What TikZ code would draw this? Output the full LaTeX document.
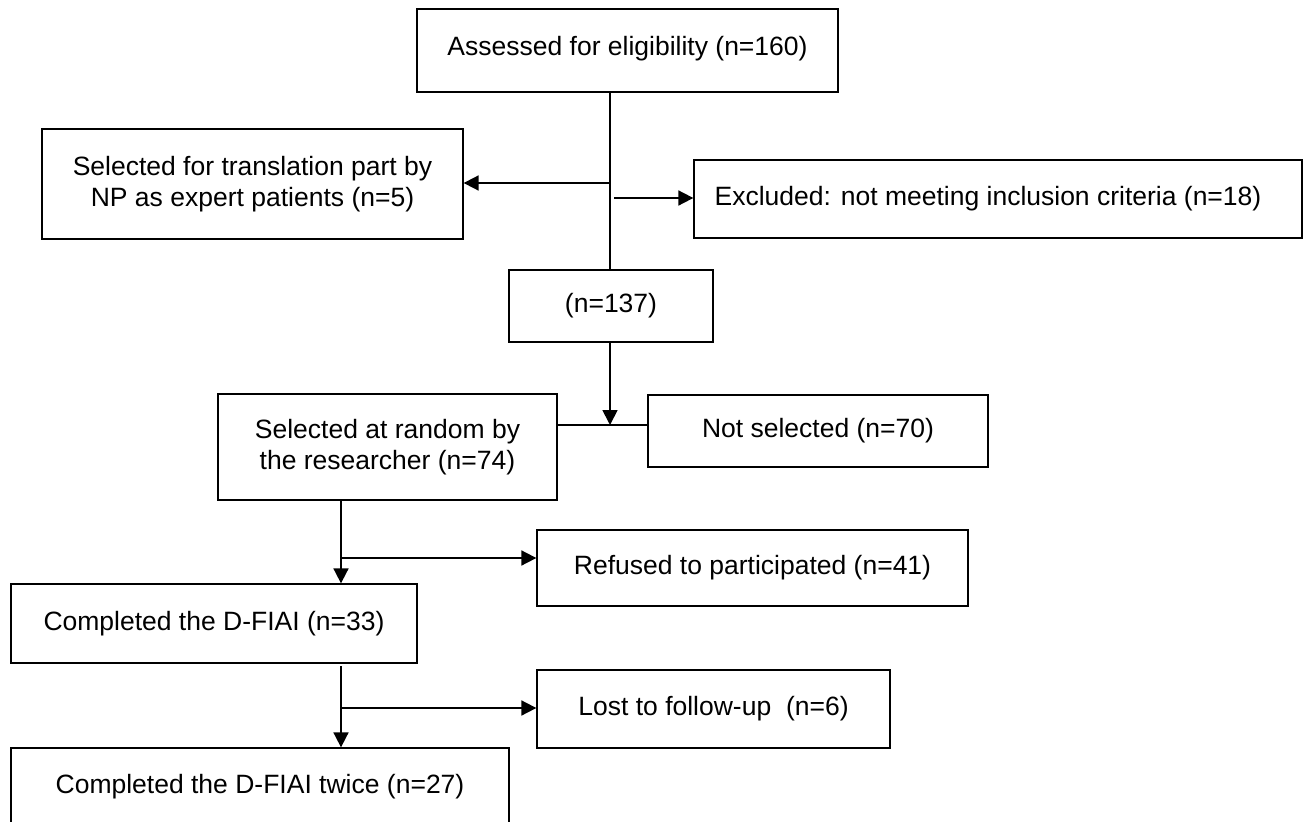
\documentclass[tikz,border=0pt]{standalone}
\usepackage{fontspec}
\setmainfont{Liberation Sans}
\usetikzlibrary{arrows.meta,calc}
\begin{document}
\begin{tikzpicture}[x=1pt,y=-1pt,
  box/.style={draw=black, line width=1.3pt, rectangle, align=center, inner sep=0pt,
    font=\fontsize{26.5}{30.5}\selectfont},
  conn/.style={draw=black, line width=1.8pt},
  arr/.style={conn, -{Triangle[length=15pt,width=15pt]}}]
\path[use as bounding box, clip] (0,0) rectangle (1307,822);
\fill[white] (0,0) rectangle (1307,822);
% boxes
\node[box, minimum width=421pt, minimum height=83pt] (b1) at (627.5,50.5) {Assessed for eligibility (n=160)\\[-22pt]\mbox{}\rule{0pt}{0pt}};
\node[box, minimum width=421pt, minimum height=110pt] (b2) at (252.5,184) {Selected for translation part by\\NP as expert patients (n=5)};
\node[box, minimum width=608pt, minimum height=78pt] (b3) at (998,199) {\hspace*{-20pt}Excluded: not meeting inclusion criteria (n=18)};
\node[box, minimum width=204pt, minimum height=72pt] (b4) at (611,306) {(n=137)};
\node[box, minimum width=339pt, minimum height=106pt] (b5) at (387.5,447) {Selected at random by\\the researcher (n=74)};
\node[box, minimum width=340pt, minimum height=72pt] (b6) at (818,431) {Not selected (n=70)};
\node[box, minimum width=431pt, minimum height=76pt] (b7) at (752.5,568) {Refused to participated (n=41)};
\node[box, minimum width=406pt, minimum height=79pt] (b8) at (214,623.5) {Completed the D-FIAI (n=33)};
\node[box, minimum width=353pt, minimum height=78pt] (b9) at (713.5,709) {Lost to follow-up\ \ (n=6)};
\node[box, minimum width=498pt, minimum height=78pt] (b10) at (260,787) {Completed the D-FIAI twice (n=27)};
% junction coordinates
\coordinate (sp1) at (610,0);
\coordinate (j1) at (610,183);
\coordinate (j2) at (614,198);
\coordinate (j3) at (610,425);
\coordinate (sp2) at (341,0);
\coordinate (j4) at (341,558);
\coordinate (j5) at (341,666);
\coordinate (j6) at (341,708);
% connectors
\draw[conn] (b1.south -| sp1) -- (b4.north -| sp1);
\draw[arr] (j1) -- (j1 -| b2.east);
\draw[arr] (j2) -- (j2 -| b3.west);
\draw[arr] (b4.south -| sp1) -- (j3);
\draw[conn] (j3 -| b5.east) -- (j3 -| b6.west);
\draw[arr] (b5.south -| sp2) -- (b8.north -| sp2);
\draw[arr] (j4) -- (j4 -| b7.west);
\draw[arr] (j5) -- (b10.north -| sp2);
\draw[arr] (j6) -- (j6 -| b9.west);
\end{tikzpicture}
\end{document}
